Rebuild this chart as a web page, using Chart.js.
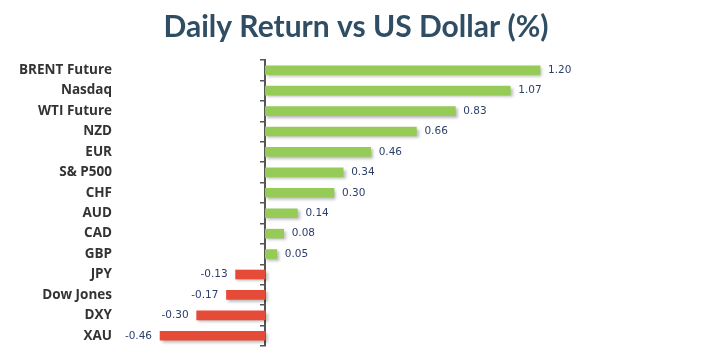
<!DOCTYPE html>
<html>
<head>
<meta charset="utf-8">
<script src="https://cdn.jsdelivr.net/npm/chart.js@4.4.1/dist/chart.umd.min.js"></script>
<style>
  html,body{margin:0;padding:0;background:#fff;}
  #wrap{width:712px;height:357px;}
</style>
</head>
<body>
<div id="wrap"><canvas id="chart" width="712" height="357"></canvas></div>
<script>
/* ---- data ---- */
const labels = ["BRENT Future","Nasdaq","WTI Future","NZD","EUR","S& P500","CHF","AUD","CAD","GBP","JPY","Dow Jones","DXY","XAU"];
const returns = [1.20,1.07,0.83,0.66,0.46,0.34,0.30,0.14,0.08,0.05,-0.13,-0.17,-0.30,-0.46];

const GREEN = "#96cb58", RED = "#e64b38", AXIS = "#555";

/* shadow under the bars + value labels */
const barDeco = {
  id:"barDeco",
  beforeDatasetsDraw(chart){
    const c = chart.ctx;
    c.save();
    c.shadowColor = "rgba(0,0,0,0.28)";
    c.shadowBlur = 3;
    c.shadowOffsetX = 2;
    c.shadowOffsetY = 2;
  },
  afterDatasetsDraw(chart){
    const c = chart.ctx;
    c.restore();
    const meta = chart.getDatasetMeta(0);
    c.save();
    c.font = "10.5px 'DejaVu Sans'";
    c.fillStyle = "#2c3e6b";
    c.textBaseline = "middle";
    meta.data.forEach((bar,i)=>{
      const v = returns[i];
      if(v>=0){ c.textAlign="left";  c.fillText(v.toFixed(2), bar.x+8, bar.y); }
      else    { c.textAlign="right"; c.fillText(v.toFixed(2), bar.x-8, bar.y); }
    });
    c.restore();
  }
};

// drop the half-label padding chart.js adds above/below vertical axes
const noPad = s=>{ s.paddingTop=0; s.paddingBottom=0; };

new Chart(document.getElementById("chart"),{
  type:"bar",
  data:{
    labels,
    datasets:[{
      data:returns,
      backgroundColor:returns.map(v=>v>=0?GREEN:RED),
      barThickness:9,
      borderWidth:0
    }]
  },
  options:{
    indexAxis:"y",
    responsive:false,
    animation:false,
    layout:{padding:{left:14,right:14,top:0,bottom:11}},
    plugins:{
      legend:{display:false},
      tooltip:{enabled:false},
      title:{
        display:true,
        text:"Daily Return vs US Dollar (%)",
        color:"#2f4e63",
        font:{family:"Lato",size:30,weight:"bold",lineHeight:1.2},
        padding:{top:9,bottom:15}
      }
    },
    scales:{
      x:{display:false,min:-0.6,max:1.89},
      y:{
        grid:{display:false,drawTicks:false},
        border:{display:false},
        afterFit:s=>{ s.width=114; noPad(s); },
        ticks:{
          padding:16,
          color:"#333",
          font:{family:"Open Sans",size:13.5,weight:"bold"}
        }
      },
      y2:{
        axis:"y",
        type:"category",
        labels,
        offset:true,
        position:{x:0},
        afterFit:noPad,
        grid:{drawOnChartArea:false,offset:true,tickLength:4,color:AXIS,lineWidth:1.5},
        border:{color:AXIS,width:2},
        ticks:{display:false}
      }
    }
  },
  plugins:[barDeco]
});
</script>
</body>
</html>
